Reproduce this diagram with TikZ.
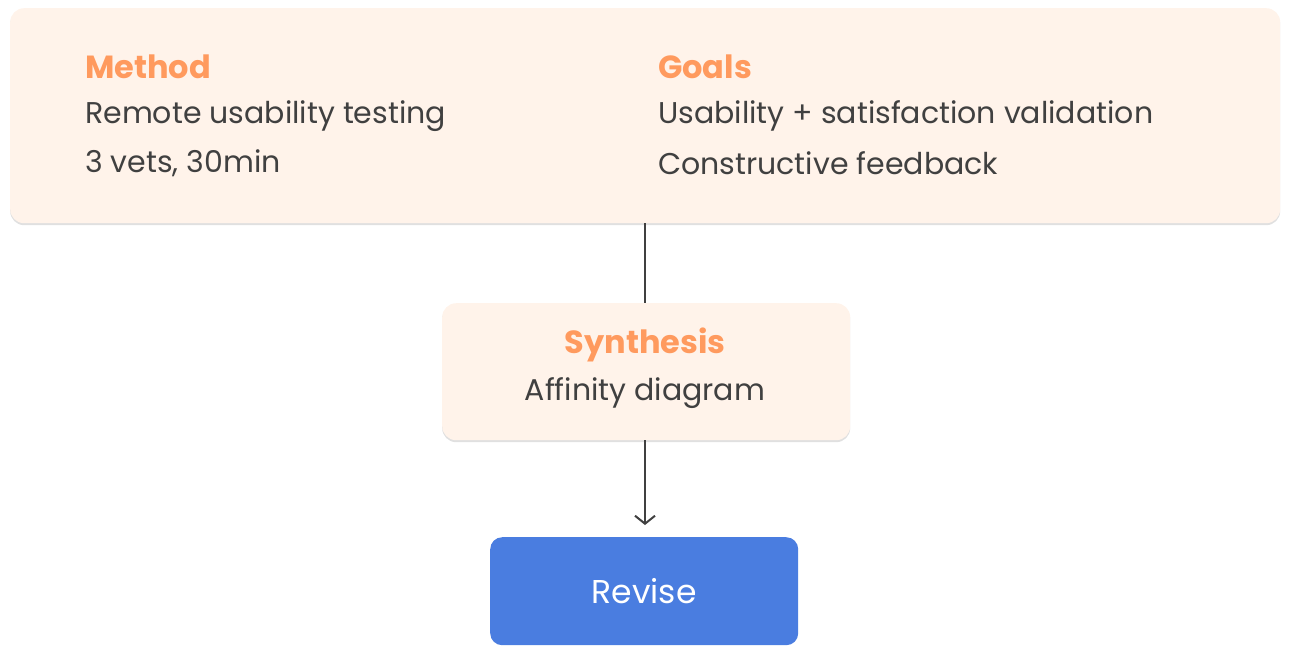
\documentclass[tikz,border=0pt]{standalone}
\usepackage{fontspec}
\setmainfont{Poppins}
\usetikzlibrary{shadows,arrows.meta}
\definecolor{peach}{HTML}{FFF3EA}
\definecolor{orng}{HTML}{FF9A5E}
\definecolor{txt}{HTML}{404040}
\definecolor{blu}{HTML}{4A7DE0}
\begin{document}
\begin{tikzpicture}[x=1pt,y=-1pt,
  card/.style={fill=peach,draw=none,rounded corners=14pt,drop shadow={shadow xshift=0pt,shadow yshift=-2pt,opacity=0.12,fill=black}},
  ttl/.style={text=orng,font=\fontsize{32}{38}\selectfont\bfseries,inner sep=0pt},
  bod/.style={text=txt,font=\fontsize{30}{36}\selectfont,inner sep=0pt},
  conn/.style={draw=txt,line width=2pt}]
\useasboundingbox (0,0) rectangle (1297,659);
\node[card,minimum width=1270pt,minimum height=215pt,anchor=north west] (top) at (10,8) {};
\node[ttl,anchor=west] (mt) at (85,67) {Method};
\node[bod,anchor=west] (m1) at (85,116) {Remote usability testing};
\node[bod,anchor=west] (m2) at (85,163) {3 vets, 30min};
\node[ttl,anchor=west] (gt) at (658,67) {Goals};
\node[bod,anchor=west] (g1) at (658,116) {Usability + satisfaction validation};
\node[bod,anchor=west] (g2) at (658,163) {Constructive feedback};
\node[card,minimum width=408pt,minimum height=137pt,anchor=north west] (syn) at (442,303) {};
\node[ttl] (st) at (645,345) {Synthesis};
\node[bod] (s1) at (645,393) {Affinity diagram};
\node[fill=blu,rounded corners=12pt,minimum width=308pt,minimum height=108pt,anchor=north west,text=white,font=\fontsize{33}{40}\selectfont] (rev) at (490,537) {Revise};
\coordinate (a) at (645,223);
\coordinate (b) at (645,303);
\coordinate (c) at (645,440);
\coordinate (d) at (645,525);
\draw[conn] (a) -- (b);
\draw[conn,-{Straight Barb[length=8pt,width=20pt,line width=2pt]}] (c) -- (d);
\end{tikzpicture}
\end{document}
